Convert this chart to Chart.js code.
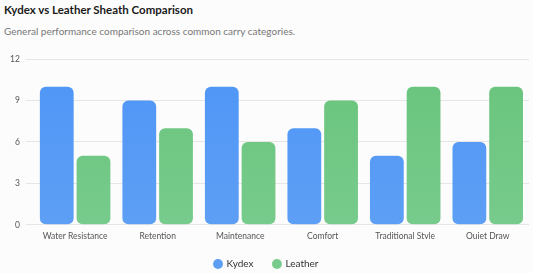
<!DOCTYPE html>
<html><head><meta charset="utf-8">
<script src="https://cdn.jsdelivr.net/npm/chart.js@4"></script>
<style>
html,body{margin:0;padding:0;background:#fcfcfc;width:533px;height:273px;overflow:hidden;font-family:"Lato",sans-serif;}
#t{position:absolute;left:4px;top:3px;font-size:11.5px;font-weight:700;color:#1a1a1a;}
#s{position:absolute;left:4px;top:25px;font-size:10px;color:#777;}
#wrap{position:absolute;left:0;top:48px;width:533px;height:225px;}
</style></head><body>
<div id="t">Kydex vs Leather Sheath Comparison</div>
<div id="s">General performance comparison across common carry categories.</div>
<div id="wrap"><canvas id="c"></canvas></div>
<script>
const categories=["Water Resistance","Retention","Maintenance","Comfort","Traditional Style","Quiet Draw"];
const kydex=[10,9,10,7,5,6];
const leather=[5,7,6,9,10,10];
const ticks=[0,3,6,9,12];
function grad(ctx,c1,c2){const a=ctx.chart.chartArea;if(!a)return c1;const g=ctx.chart.ctx.createLinearGradient(0,a.top,0,a.bottom);g.addColorStop(0,c1);g.addColorStop(1,c2);return g;}
const legendFit={id:'legendFit',beforeInit(chart){const f=chart.legend.fit;chart.legend.fit=function(){f.call(this);this.height-=6;};}};
new Chart(document.getElementById('c'),{type:'bar',
data:{labels:categories,datasets:[
{label:'Kydex',data:kydex,backgroundColor:c=>grad(c,'#4e95f6','#5d9ff5'),borderRadius:6,borderSkipped:false},
{label:'Leather',data:leather,backgroundColor:c=>grad(c,'#68c47b','#77cb8c'),borderRadius:6,borderSkipped:false}]},
plugins:[legendFit],
options:{responsive:true,maintainAspectRatio:false,animation:false,
layout:{padding:{left:4,right:4,top:6,bottom:0}},
datasets:{bar:{categoryPercentage:0.89,barPercentage:0.92}},
plugins:{legend:{position:'bottom',labels:{usePointStyle:true,pointStyle:'circle',boxWidth:7,boxHeight:7,padding:20,color:'#333',font:{family:'Lato',size:10}}},tooltip:{enabled:false}},
scales:{x:{grid:{display:false},border:{display:false},ticks:{color:'#555',maxRotation:0,autoSkip:false,padding:-2,font:{family:'Lato',size:8.5}}},
y:{min:0,max:12,afterBuildTicks:a=>{a.ticks=ticks.map(v=>({value:v}));},border:{display:false},grid:{color:'#e6e6e6',borderDash:[3,3]},ticks:{color:'#555',font:{family:'Lato',size:8.5},padding:6}}}}});
</script></body></html>
